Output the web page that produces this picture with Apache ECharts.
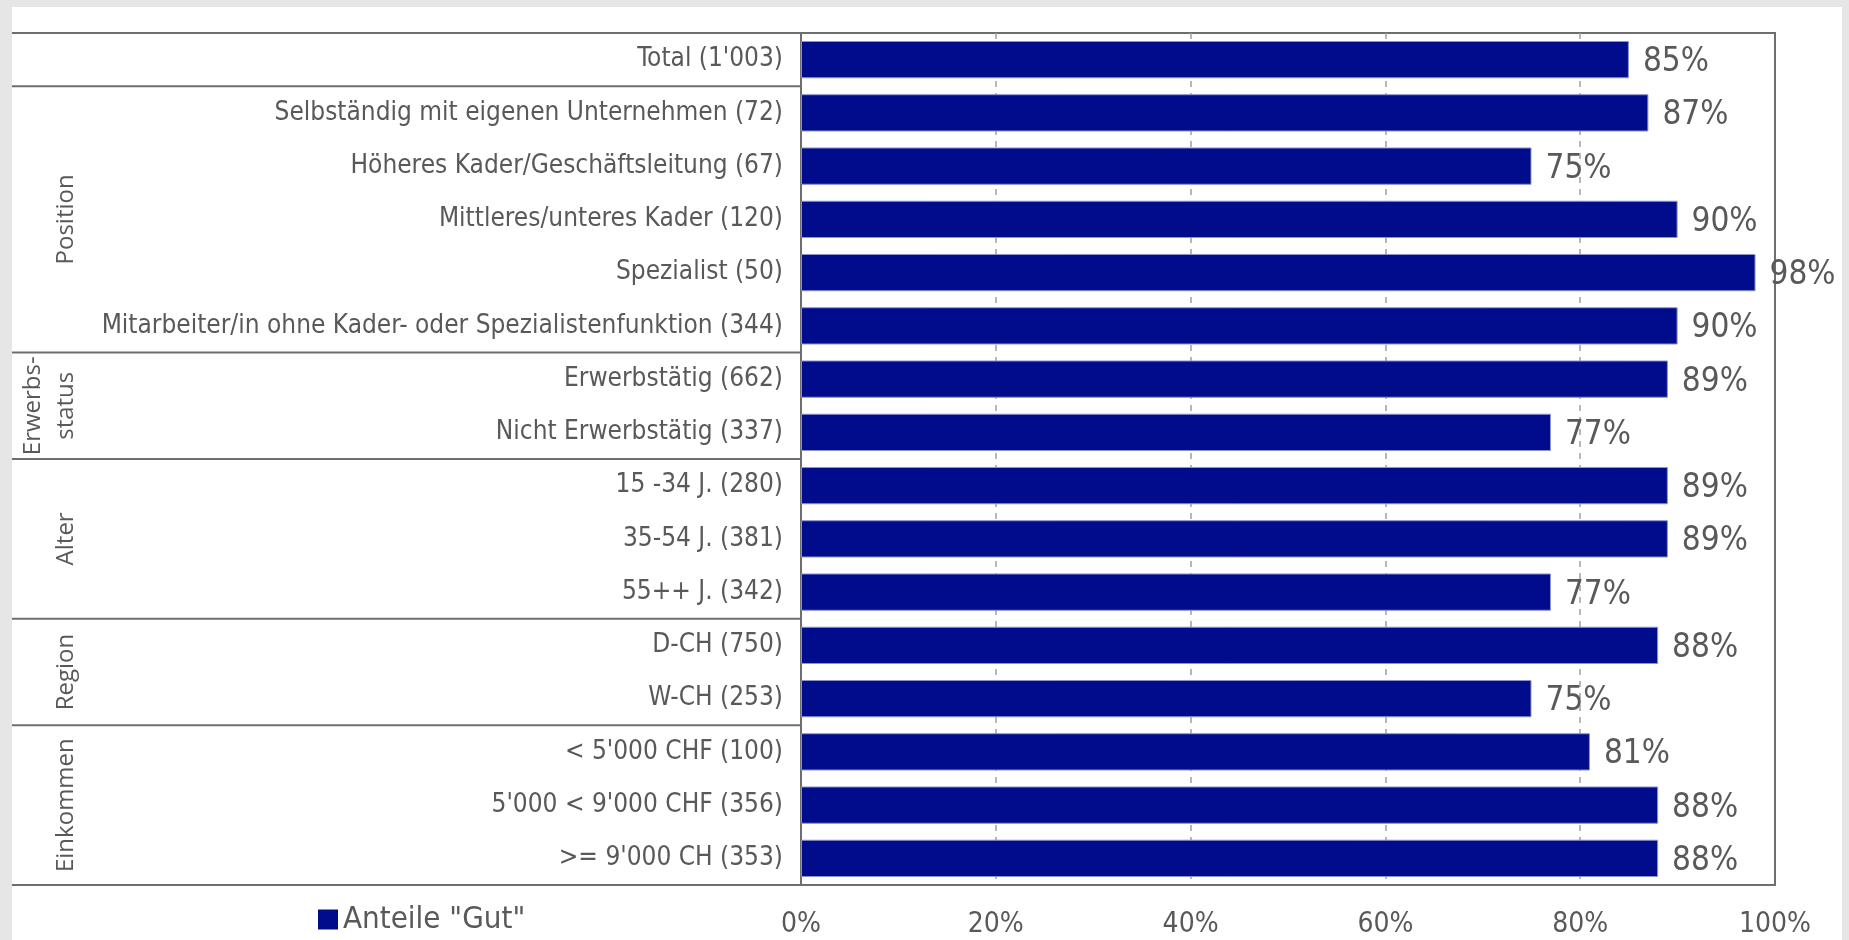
<!DOCTYPE html>
<html>
<head>
<meta charset="utf-8">
<script src="https://cdn.jsdelivr.net/npm/echarts@6/dist/echarts.min.js"></script>
<style>
html, body { margin: 0; padding: 0; background: #e6e6e6; }
#panel { position: absolute; left: 12px; top: 7px; width: 1830px; height: 933px; background: #fff; }
#chart { position: absolute; left: 0; top: 0; width: 1849px; height: 940px; }
</style>
</head>
<body>
<div id="panel"></div>
<div id="chart"></div>
<script>
// Kategorien (von oben nach unten)
const categories = [
  "Total (1'003)",
  'Selbständig mit eigenen Unternehmen (72)',
  'Höheres Kader/Geschäftsleitung (67)',
  'Mittleres/unteres Kader (120)',
  'Spezialist (50)',
  'Mitarbeiter/in ohne Kader- oder Spezialistenfunktion (344)',
  'Erwerbstätig (662)',
  'Nicht Erwerbstätig (337)',
  '15 -34 J. (280)',
  '35-54 J. (381)',
  '55++ J. (342)',
  'D-CH (750)',
  'W-CH (253)',
  "< 5'000 CHF (100)",
  "5'000 < 9'000 CHF (356)",
  ">= 9'000 CH (353)"
]

// Anteile "Gut" in %
const values = [85, 87, 75, 90, 98, 90, 89, 77, 89, 89, 77, 88, 75, 81, 88, 88]

// Gruppen
const groupNames = ['', 'Position', 'Erwerbs-\nstatus', 'Alter', 'Region', 'Einkommen']
const groupSizes = [1, 5, 2, 3, 2, 3]

const xTicks = [0, 20, 40, 60, 80, 100]

const chart = echarts.init(document.getElementById('chart'))
const gray = '#595959'
const lineColor = '#6e6e6e'
const font = 'DejaVu Sans Condensed, DejaVu Sans, sans-serif'

const option = {
  animation: false,
  textStyle: { fontFamily: font },
  grid: {
    left: 801,
    right: 74,
    top: 33,
    bottom: 55,
    show: true,
    borderColor: lineColor,
    borderWidth: 2
  },
  legend: {
    left: 313,
    top: 899,
    icon: 'rect',
    itemWidth: 20,
    itemHeight: 20,
    itemStyle: { borderWidth: 0 },
    textStyle: { fontSize: 31, color: gray, fontFamily: font }
  },
  xAxis: {
    type: 'value',
    min: xTicks[0],
    max: xTicks[xTicks.length - 1],
    interval: 20,
    axisLine: { show: false },
    axisTick: { show: false },
    axisLabel: { formatter: '{value}%', fontSize: 28, color: gray, margin: 26 },
    splitLine: {
      showMinLine: false,
      showMaxLine: false,
      lineStyle: { type: [6, 6], color: '#a0a0a0', width: 1.5 }
    }
  },
  yAxis: {
    type: 'category',
    inverse: true,
    data: categories,
    axisLine: { lineStyle: { color: lineColor, width: 2 } },
    axisTick: { show: false },
    axisLabel: { fontSize: 26, color: gray, margin: 18 }
  },
  series: [
    {
      name: 'Anteile "Gut"',
      type: 'bar',
      data: values,
      barCategoryGap: '30%',
      itemStyle: { color: '#000c8c', borderColor: '#8b93cc', borderWidth: 1 },
      label: {
        show: true,
        position: 'right',
        distance: 14,
        offset: [0, 3],
        formatter: '{c}%',
        fontSize: 33,
        color: gray
      }
    }
  ]
}

chart.setOption(option)

// Gruppentrennlinien und -beschriftungen links
const y0 = chart.convertToPixel({ yAxisIndex: 0 }, 0)
const y1 = chart.convertToPixel({ yAxisIndex: 0 }, 1)
const band = y1 - y0
const xLeft = 12
const xAxis0 = chart.convertToPixel({ xAxisIndex: 0 }, 0)

const elements = []
const hline = (y) => ({
  type: 'line',
  shape: { x1: xLeft, y1: y, x2: xAxis0, y2: y },
  style: { stroke: lineColor, lineWidth: 2 }
})

let start = 0
elements.push(hline(y0 - band / 2))
groupNames.forEach((name, i) => {
  const end = start + groupSizes[i] - 1
  const top = chart.convertToPixel({ yAxisIndex: 0 }, start) - band / 2
  const bottom = chart.convertToPixel({ yAxisIndex: 0 }, end) + band / 2
  elements.push(hline(bottom))
  if (name) {
    elements.push({
      type: 'text',
      x: name.indexOf('\n') >= 0 ? 50 : 66,
      y: (top + bottom) / 2,
      rotation: Math.PI / 2,
      style: {
        text: name,
        fontSize: 24,
        lineHeight: 33,
        fontFamily: 'Open Sans, Noto Sans, sans-serif',
        fill: gray,
        align: 'center',
        verticalAlign: 'middle'
      }
    })
  }
  start = end + 1
})

chart.setOption({ graphic: { elements } })
</script>
</body>
</html>
